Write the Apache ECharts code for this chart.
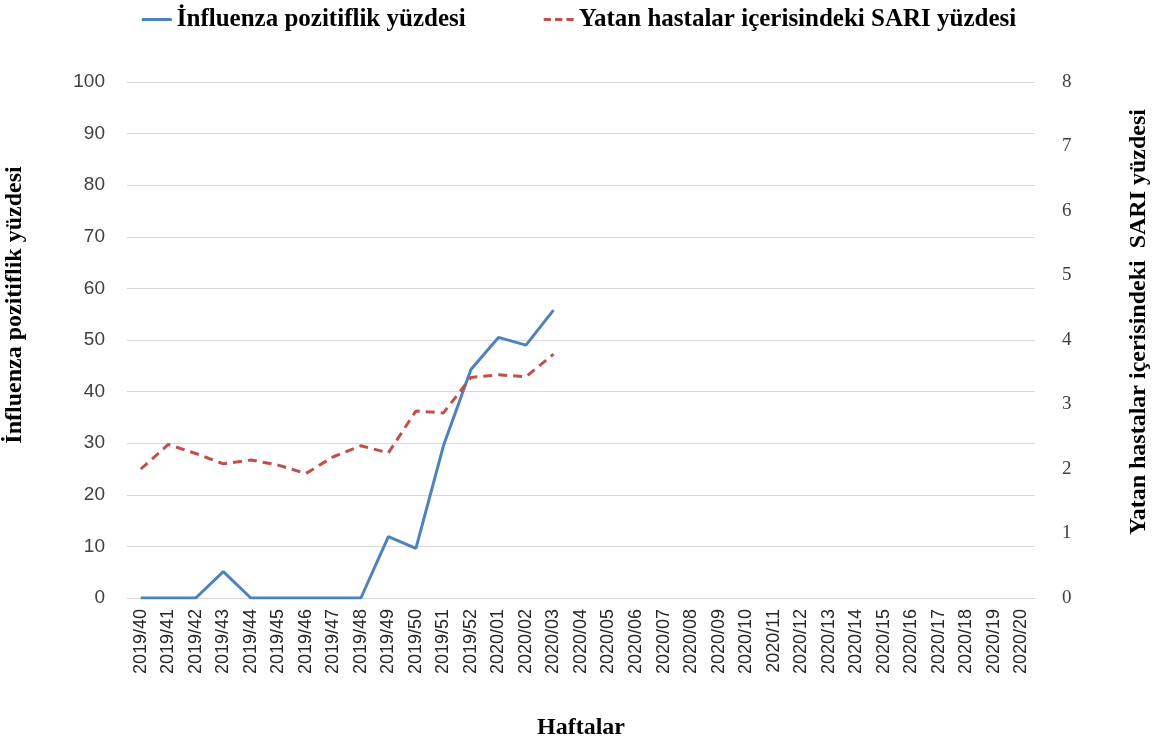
<!DOCTYPE html>
<html>
<head>
<meta charset="utf-8">
<script src="https://cdn.jsdelivr.net/npm/echarts@6/dist/echarts.min.js"></script>
<style>
  html, body { margin: 0; padding: 0; background: #fff; }
  #chart { width: 1158px; height: 745px; }
</style>
</head>
<body>
<div id="chart"></div>
<script>
// haftalar (2019/40 - 2020/20)
const weeks = [
  '2019/40', '2019/41', '2019/42', '2019/43', '2019/44', '2019/45', '2019/46',
  '2019/47', '2019/48', '2019/49', '2019/50', '2019/51', '2019/52',
  '2020/01', '2020/02', '2020/03', '2020/04', '2020/05', '2020/06', '2020/07',
  '2020/08', '2020/09', '2020/10', '2020/11', '2020/12', '2020/13', '2020/14',
  '2020/15', '2020/16', '2020/17', '2020/18', '2020/19', '2020/20'
]
// influenza pozitiflik yüzdesi (sol eksen)
const influenzaPct = [0, 0, 0, 5.1, 0, 0, 0, 0, 0, 11.9, 9.6, 29.5, 44.3, 50.5, 49.0, 55.8]
// SARI yüzdesi (sağ eksen)
const sariPct = [2.0, 2.38, 2.24, 2.08, 2.14, 2.06, 1.93, 2.19, 2.36, 2.25, 2.9, 2.87, 3.42, 3.46, 3.43, 3.78]

const leftTicks = { min: 0, max: 100, interval: 10 }
const rightTicks = { min: 0, max: 8, interval: 1 }

const serif = '"Liberation Serif", "DejaVu Serif", serif'
const sans = '"Liberation Sans", Arial, sans-serif'

const chart = echarts.init(document.getElementById('chart'))
chart.setOption({
  animation: false,
  backgroundColor: '#fff',
  legend: {
    top: 2,
    left: 'center',
    itemGap: 78,
    itemWidth: 30,
    itemHeight: 14,
    textStyle: { fontFamily: serif, fontWeight: 'bold', fontSize: 25, color: '#000' },
    data: [
      { name: 'İnfluenza pozitiflik yüzdesi', icon: 'path://M0,6 L30,6 L30,9 L0,9 Z' },
      { name: 'Yatan hastalar içerisindeki SARI yüzdesi', icon: 'path://M0,6 L7,6 L7,9 L0,9 Z M11,6 L18,6 L18,9 L11,9 Z M22,6 L29,6 L29,9 L22,9 Z' }
    ]
  },
  grid: { left: 127, right: 123, top: 82, bottom: 147, outerBoundsMode: 'none' },
  xAxis: {
    type: 'category',
    data: weeks,
    name: 'Haftalar',
    nameLocation: 'middle',
    nameGap: 118,
    nameTextStyle: { fontFamily: serif, fontWeight: 'bold', fontSize: 24, color: '#000' },
    axisLine: { lineStyle: { color: '#d9d9d9', width: 1 } },
    axisTick: { show: false },
    axisLabel: { rotate: 90, interval: 0, fontFamily: sans, fontSize: 18, color: '#262626', margin: 11 }
  },
  yAxis: [
    {
      type: 'value',
      min: leftTicks.min, max: leftTicks.max, interval: leftTicks.interval,
      name: 'İnfluenza pozitiflik yüzdesi',
      nameLocation: 'middle',
      nameGap: 100,
      nameTextStyle: { fontFamily: serif, fontWeight: 'bold', fontSize: 24, color: '#000', padding: [0, 0, 0, 70] },
      axisLine: { show: false },
      axisTick: { show: false },
      axisLabel: { fontFamily: sans, fontSize: 19, color: '#404040', margin: 22 },
      splitLine: { lineStyle: { color: '#d9d9d9', width: 1 } }
    },
    {
      type: 'value',
      min: rightTicks.min, max: rightTicks.max, interval: rightTicks.interval,
      name: 'Yatan hastalar içerisindeki  SARI yüzdesi',
      nameLocation: 'middle',
      nameGap: 92,
      nameRotate: 90,
      nameTextStyle: { fontFamily: serif, fontWeight: 'bold', fontSize: 24, color: '#000', padding: [0, 0, 0, 36] },
      axisLine: { show: false },
      axisTick: { show: false },
      axisLabel: { fontFamily: serif, fontSize: 19, color: '#404040', margin: 27 },
      splitLine: { show: false }
    }
  ],
  series: [
    {
      name: 'İnfluenza pozitiflik yüzdesi',
      type: 'line',
      yAxisIndex: 0,
      data: influenzaPct,
      symbol: 'none',
      lineStyle: { color: '#4f81bd', width: 3 },
      itemStyle: { color: '#4f81bd' }
    },
    {
      name: 'Yatan hastalar içerisindeki SARI yüzdesi',
      type: 'line',
      yAxisIndex: 1,
      data: sariPct,
      symbol: 'none',
      lineStyle: { color: '#c0504d', width: 3, type: [9, 6] },
      itemStyle: { color: '#c0504d' }
    }
  ]
})
</script>
</body>
</html>
